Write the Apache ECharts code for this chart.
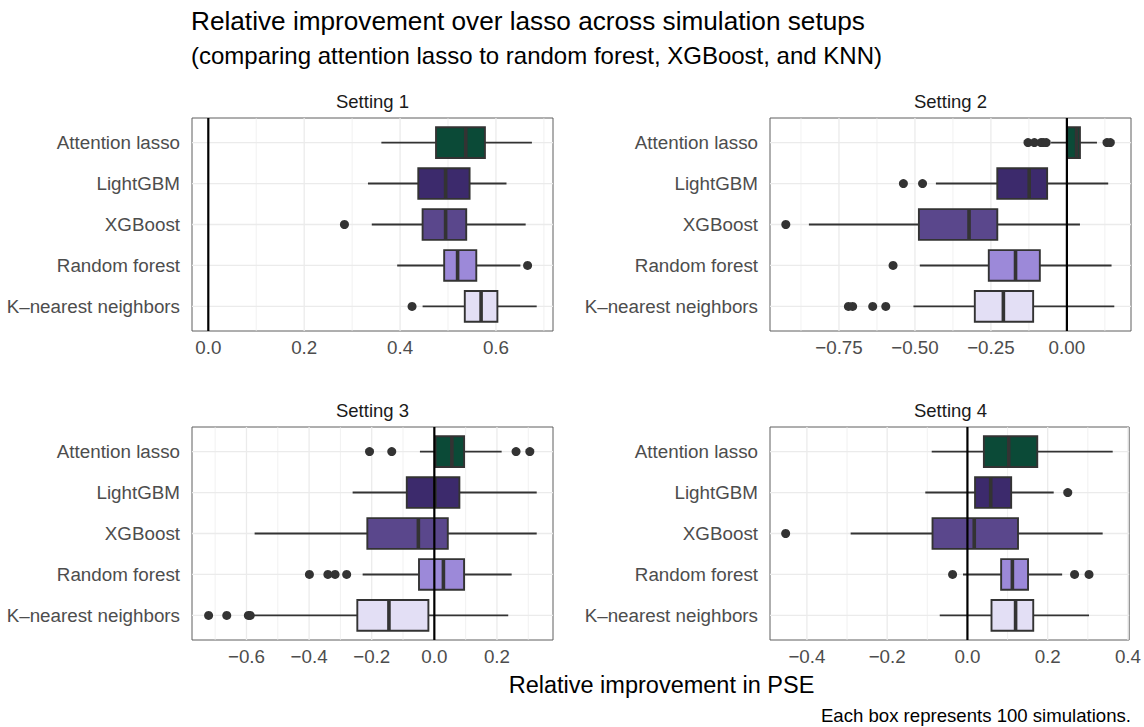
<!DOCTYPE html>
<html>
<head>
<meta charset="utf-8">
<script src="https://cdn.jsdelivr.net/npm/echarts@6/dist/echarts.min.js"></script>
<style>
    html, body {margin: 0; padding: 0; background: #fff;}
    #chart {width: 1144px; height: 727px;}
</style>
</head>
<body>
<div id="chart"></div>
<script>
const methods = ['Attention lasso', 'LightGBM', 'XGBoost', 'Random forest', 'K\u2013nearest neighbors']
const methodColors = ['#0b4a37', '#3c2a6c', '#5a478c', '#9c89d9', '#e3dff5']

// per method: [lower whisker, q1, median, q3, upper whisker]
const setting1Boxes = [
    [0.361, 0.475, 0.537, 0.577, 0.675],
    [0.333, 0.438, 0.495, 0.545, 0.622],
    [0.341, 0.447, 0.495, 0.538, 0.662],
    [0.394, 0.492, 0.520, 0.559, 0.651],
    [0.447, 0.535, 0.569, 0.603, 0.685],
]
// [value, method index]
const setting1Outliers = [[0.284, 2], [0.666, 3], [0.425, 4]]

const setting2Boxes = [
    [-0.052, 0.001, 0.032, 0.043, 0.099],
    [-0.431, -0.229, -0.124, -0.065, 0.136],
    [-0.849, -0.487, -0.322, -0.229, 0.043],
    [-0.484, -0.257, -0.169, -0.089, 0.147],
    [-0.505, -0.303, -0.209, -0.111, 0.156],
]
const setting2Outliers = [
    [-0.128, 0], [-0.107, 0], [-0.085, 0], [-0.078, 0], [-0.068, 0], [0.132, 0], [0.143, 0],
    [-0.538, 1], [-0.475, 1],
    [-0.925, 2],
    [-0.572, 3],
    [-0.719, 4], [-0.705, 4], [-0.639, 4], [-0.596, 4],
]

const setting3Boxes = [
    [-0.046, 0.004, 0.056, 0.095, 0.215],
    [-0.261, -0.088, 0.002, 0.080, 0.327],
    [-0.574, -0.214, -0.051, 0.043, 0.327],
    [-0.229, -0.049, 0.029, 0.095, 0.247],
    [-0.578, -0.246, -0.145, -0.019, 0.236],
]
const setting3Outliers = [
    [-0.207, 0], [-0.136, 0], [0.261, 0], [0.305, 0],
    [-0.399, 3], [-0.340, 3], [-0.317, 3], [-0.280, 3],
    [-0.721, 4], [-0.663, 4], [-0.594, 4], [-0.588, 4],
]

const setting4Boxes = [
    [-0.089, 0.041, 0.103, 0.174, 0.362],
    [-0.105, 0.019, 0.058, 0.109, 0.215],
    [-0.291, -0.087, 0.017, 0.126, 0.337],
    [-0.011, 0.084, 0.112, 0.151, 0.236],
    [-0.069, 0.060, 0.120, 0.164, 0.303],
]
const setting4Outliers = [
    [0.250, 1],
    [-0.453, 2],
    [-0.037, 3], [0.267, 3], [0.303, 3],
]

const setting1Ticks = [0, 0.2, 0.4, 0.6]
const setting1TickLabels = ['0.0', '0.2', '0.4', '0.6']
const setting1MinorTicks = [0.1, 0.3, 0.5, 0.7]
const setting2Ticks = [-0.75, -0.5, -0.25, 0]
const setting2TickLabels = ['\u22120.75', '\u22120.50', '\u22120.25', '0.00']
const setting2MinorTicks = [-0.875, -0.625, -0.375, -0.125, 0.125]
const setting3Ticks = [-0.6, -0.4, -0.2, 0, 0.2]
const setting3TickLabels = ['\u22120.6', '\u22120.4', '\u22120.2', '0.0', '0.2']
const setting3MinorTicks = [-0.7, -0.5, -0.3, -0.1, 0.1, 0.3]
const setting4Ticks = [-0.4, -0.2, 0, 0.2, 0.4]
const setting4TickLabels = ['\u22120.4', '\u22120.2', '0.0', '0.2', '0.4']
const setting4MinorTicks = [-0.3, -0.1, 0.1, 0.3]

const FONT = '"Liberation Sans", Arial, Helvetica, sans-serif'

let panels = [
    {name: 'Setting 1', boxes: setting1Boxes, outliers: setting1Outliers, ticks: setting1Ticks,
        labels: setting1TickLabels, minor: setting1MinorTicks, xMin: -0.034, xMax: 0.719, left: 192, top: 118},
    {name: 'Setting 2', boxes: setting2Boxes, outliers: setting2Outliers, ticks: setting2Ticks,
        labels: setting2TickLabels, minor: setting2MinorTicks, xMin: -0.977, xMax: 0.211, left: 770, top: 118},
    {name: 'Setting 3', boxes: setting3Boxes, outliers: setting3Outliers, ticks: setting3Ticks,
        labels: setting3TickLabels, minor: setting3MinorTicks, xMin: -0.774, xMax: 0.379, left: 192, top: 427},
    {name: 'Setting 4', boxes: setting4Boxes, outliers: setting4Outliers, ticks: setting4Ticks,
        labels: setting4TickLabels, minor: setting4MinorTicks, xMin: -0.492, xMax: 0.403, left: 770, top: 427},
]
const PANEL_W = 361
const PANEL_H = 213

function tickLabel(p, v) {
    let best = 0
    p.ticks.forEach((t, i) => {
        if (Math.abs(t - v) < Math.abs(p.ticks[best] - v)) best = i
    })
    return p.labels[best]
}

let grids = [], xAxes = [], yAxes = [], series = [], graphics = []

panels.forEach((p, k) => {
    grids.push({
        left: p.left, top: p.top, width: PANEL_W, height: PANEL_H,
        show: true, borderColor: '#5e5e5e', borderWidth: 1, backgroundColor: 'transparent',
    })
    xAxes.push({
        type: 'value', gridIndex: k, min: p.xMin, max: p.xMax,
        axisLine: {show: false}, axisTick: {show: false}, splitLine: {show: false},
        axisLabel: {
            customValues: p.ticks, margin: 7,
            formatter: (v) => tickLabel(p, v),
            color: '#4d4d4d', fontSize: 18.8, fontFamily: FONT,
        },
    })
    yAxes.push({
        type: 'value', gridIndex: k, min: 0.4, max: 5.6, inverse: true,
        axisLine: {show: false}, axisTick: {show: false}, splitLine: {show: false},
        axisLabel: {
            customValues: [1, 2, 3, 4, 5], margin: 12,
            formatter: (v) => methods[Math.round(v) - 1] || '',
            color: '#4d4d4d', fontSize: 18.8, fontFamily: FONT,
        },
    })

    // сетка: вертикальные (major/minor) и горизонтальные линии по категориям
    let gridData = p.ticks.map(t => [t, 1, 0])
        .concat(p.minor.map(t => [t, 0, 0]))
        .concat(methods.map((m, i) => [0, 1, i + 1]))
    series.push({
        type: 'custom', xAxisIndex: k, yAxisIndex: k, silent: true, z: 1,
        data: gridData,
        encode: {x: 0, y: 2},
        renderItem(params, api) {
            let cs = params.coordSys
            let row = api.value(2)
            let lw = api.value(1) ? 1.3 : 0.7
            if (row > 0) {
                let y = api.coord([p.xMin, row])[1]
                return {type: 'line', shape: {x1: cs.x, y1: y, x2: cs.x + cs.width, y2: y},
                    style: {stroke: '#ebebeb', lineWidth: 1.3}}
            }
            let x = api.coord([api.value(0), 1])[0]
            return {type: 'line', shape: {x1: x, y1: cs.y, x2: x, y2: cs.y + cs.height},
                style: {stroke: '#ebebeb', lineWidth: lw}}
        },
    })

    // боксы
    series.push({
        type: 'custom', xAxisIndex: k, yAxisIndex: k, z: 3,
        data: p.boxes.map((b, i) => [i + 1].concat(b)),
        encode: {x: [1, 2, 3, 4, 5], y: 0},
        renderItem(params, api) {
            let row = api.value(0)
            let half = api.size([0, 1])[1] * 0.375
            let lo = api.coord([api.value(1), row])
            let q1 = api.coord([api.value(2), row])
            let med = api.coord([api.value(3), row])
            let q3 = api.coord([api.value(4), row])
            let hi = api.coord([api.value(5), row])
            let y = lo[1]
            return {
                type: 'group',
                children: [
                    {type: 'line', shape: {x1: lo[0], y1: y, x2: hi[0], y2: y},
                        style: {stroke: '#333', lineWidth: 1.9}},
                    {type: 'rect', shape: {x: q1[0], y: y - half, width: q3[0] - q1[0], height: half * 2},
                        style: {fill: methodColors[params.dataIndex], stroke: '#333', lineWidth: 1.9}},
                    {type: 'line', shape: {x1: med[0], y1: y - half, x2: med[0], y2: y + half},
                        style: {stroke: '#333', lineWidth: 3.6}},
                ],
            }
        },
    })

    // выбросы
    series.push({
        type: 'scatter', xAxisIndex: k, yAxisIndex: k, z: 4,
        data: p.outliers.map(o => [o[0], o[1] + 1]),
        symbol: 'circle', symbolSize: 9,
        itemStyle: {color: '#333', opacity: 1},
        emphasis: {disabled: true},
    })

    // вертикальная линия в нуле
    series.push({
        type: 'custom', xAxisIndex: k, yAxisIndex: k, silent: true, z: 5,
        data: [[0, 1]],
        renderItem(params, api) {
            let cs = params.coordSys
            let x = api.coord([api.value(0), 1])[0]
            return {type: 'line', shape: {x1: x, y1: cs.y, x2: x, y2: cs.y + cs.height},
                style: {stroke: '#000', lineWidth: 2.2}}
        },
    })

    graphics.push({
        type: 'text', x: p.left + PANEL_W / 2, y: p.top - 17,
        style: {text: p.name, fill: '#1a1a1a', fontSize: 18.5, fontFamily: FONT,
            align: 'center', verticalAlign: 'middle'},
    })
})

graphics.push(
    {type: 'text', x: 191, y: 21,
        style: {text: 'Relative improvement over lasso across simulation setups', fill: '#000',
            fontSize: 26.2, fontFamily: FONT, align: 'left', verticalAlign: 'middle'}},
    {type: 'text', x: 191, y: 55,
        style: {text: '(comparing attention lasso to random forest, XGBoost, and KNN)', fill: '#000',
            fontSize: 24, fontFamily: FONT, align: 'left', verticalAlign: 'middle'}},
    {type: 'text', x: 661.5, y: 685,
        style: {text: 'Relative improvement in PSE', fill: '#000',
            fontSize: 23.5, fontFamily: FONT, align: 'center', verticalAlign: 'middle'}},
    {type: 'text', x: 1131, y: 715,
        style: {text: 'Each box represents 100 simulations.', fill: '#000',
            fontSize: 18.6, fontFamily: FONT, align: 'right', verticalAlign: 'middle'}},
)

let chart = echarts.init(document.getElementById('chart'), null, {renderer: 'svg'})
chart.setOption({
    animation: false,
    backgroundColor: '#fff',
    grid: grids,
    xAxis: xAxes,
    yAxis: yAxes,
    series: series,
    graphic: graphics,
})
</script>
</body>
</html>
